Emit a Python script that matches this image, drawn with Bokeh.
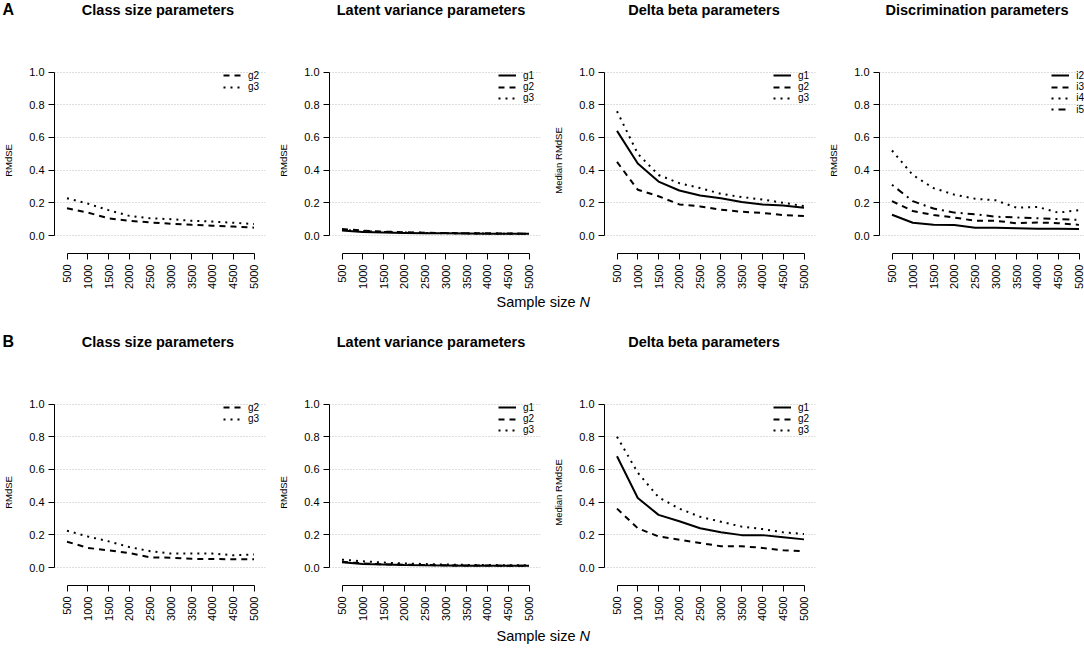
import math
from bokeh.plotting import figure
from bokeh.layouts import row, column
from bokeh.models import FixedTicker, PrintfTickFormatter, Label, Legend, LegendItem
from bokeh.embed import file_html
from bokeh.resources import INLINE

# ---------------- data ----------------
N = [500, 1000, 1500, 2000, 2500, 3000, 3500, 4000, 4500, 5000]
x_ticks = [500, 1000, 1500, 2000, 2500, 3000, 3500, 4000, 4500, 5000]
y_ticks = [0.0, 0.2, 0.4, 0.6, 0.8, 1.0]

# Row A
a_class_g2 = [0.167, 0.140, 0.105, 0.090, 0.080, 0.072, 0.065, 0.060, 0.055, 0.048]
a_class_g3 = [0.228, 0.195, 0.155, 0.120, 0.105, 0.100, 0.090, 0.085, 0.078, 0.070]

a_lat_g1 = [0.030, 0.022, 0.018, 0.016, 0.014, 0.013, 0.012, 0.011, 0.011, 0.010]
a_lat_g2 = [0.040, 0.030, 0.024, 0.020, 0.017, 0.015, 0.014, 0.013, 0.012, 0.011]
a_lat_g3 = [0.035, 0.026, 0.021, 0.018, 0.016, 0.014, 0.013, 0.012, 0.011, 0.011]

a_delta_g1 = [0.64, 0.44, 0.33, 0.275, 0.245, 0.228, 0.205, 0.190, 0.183, 0.170]
a_delta_g2 = [0.45, 0.28, 0.24, 0.190, 0.178, 0.158, 0.145, 0.138, 0.125, 0.120]
a_delta_g3 = [0.76, 0.50, 0.37, 0.320, 0.290, 0.255, 0.235, 0.220, 0.200, 0.180]

a_disc_i2 = [0.127, 0.078, 0.066, 0.064, 0.047, 0.048, 0.045, 0.042, 0.041, 0.040]
a_disc_i3 = [0.210, 0.150, 0.125, 0.110, 0.090, 0.090, 0.075, 0.080, 0.075, 0.065]
a_disc_i4 = [0.520, 0.370, 0.290, 0.250, 0.225, 0.215, 0.170, 0.175, 0.140, 0.155]
a_disc_i5 = [0.310, 0.210, 0.165, 0.140, 0.130, 0.115, 0.110, 0.105, 0.100, 0.095]

# Row B
b_class_g2 = [0.158, 0.120, 0.105, 0.088, 0.062, 0.060, 0.053, 0.052, 0.050, 0.050]
b_class_g3 = [0.225, 0.190, 0.160, 0.125, 0.100, 0.085, 0.085, 0.085, 0.075, 0.080]

b_lat_g1 = [0.032, 0.022, 0.018, 0.015, 0.013, 0.012, 0.011, 0.011, 0.010, 0.010]
b_lat_g2 = [0.035, 0.025, 0.020, 0.017, 0.015, 0.013, 0.012, 0.012, 0.011, 0.011]
b_lat_g3 = [0.048, 0.038, 0.030, 0.025, 0.021, 0.018, 0.016, 0.015, 0.014, 0.013]

b_delta_g1 = [0.68, 0.425, 0.322, 0.283, 0.240, 0.215, 0.198, 0.198, 0.185, 0.172]
b_delta_g2 = [0.36, 0.240, 0.190, 0.170, 0.150, 0.130, 0.130, 0.120, 0.105, 0.100]
b_delta_g3 = [0.80, 0.580, 0.430, 0.360, 0.310, 0.280, 0.250, 0.235, 0.215, 0.205]

titles = ["Class size parameters", "Latent variance parameters",
          "Delta beta parameters", "Discrimination parameters"]
ylabels = ["RMdSE", "RMdSE", "Median RMdSE", "RMdSE"]
row_tags = ["A", "B"]
xlabel_main = "Sample size"
xlabel_var = "N"

# ---------------- layout / style constants ----------------
FONT = "Liberation Sans"
DASH = {"solid": "solid", "dashed": "6 5", "dotted": "2 5", "dotdash": "2 5 7 5"}

TOTAL_W = 1084
LEFT_B = 52            # y axis position inside each panel figure
FIG_W = 273            # horizontal pitch of the panels
FRAME_W = 211
FRAME_H = 186
TOP_B = 47
BOTTOM_B = 37
RIGHT_B = [FIG_W - LEFT_B - FRAME_W] * 3 + [TOTAL_W - 3 * FIG_W - LEFT_B - FRAME_W]

PX_PER_X = 187.0 / 4500.0
PX_PER_Y = 163.5
X0 = 500 - 12.5 / PX_PER_X
X1 = X0 + FRAME_W / PX_PER_X
Y0 = -18 / PX_PER_Y
Y1 = Y0 + FRAME_H / PX_PER_Y

FRAME_CENTERS = [k * FIG_W + LEFT_B + FRAME_W / 2 for k in range(4)]
XLABEL_CENTER = 543

# legend geometry (pixels, relative to the frame)
LEG_FONT_PX = 10
LEG_GLYPH_W = 18
LEG_STANDOFF = 7
LEG_ITEM_H = 11.5       # height Bokeh gives one legend row
LEG_FIRST_CENTER = 8.0  # first entry centre below frame top
LEG_PITCH = 11.3        # tight line spacing without overlapping texts
LEG_TEXT_RIGHT = FRAME_W - 6
CHAR_W = {"g": 0.556, "i": 0.222, "1": 0.556, "2": 0.556, "3": 0.556, "4": 0.556, "5": 0.556}


def text_width(t):
    return sum(CHAR_W.get(c, 0.556) for c in t) * LEG_FONT_PX


def make_panel(ylab, series, right_b):
    p = figure(frame_width=FRAME_W, frame_height=FRAME_H,
               min_border_left=LEFT_B, min_border_right=right_b,
               min_border_top=TOP_B, min_border_bottom=BOTTOM_B,
               x_range=(X0, X1), y_range=(Y0, Y1),
               toolbar_location=None, output_backend="svg")
    p.outline_line_color = None
    p.background_fill_color = "white"
    p.border_fill_color = "white"
    p.xgrid.visible = False

    labels = [s[0] for s in series]
    max_w = max(text_width(t) for t in labels)
    leg_x = LEG_TEXT_RIGHT - max_w - LEG_GLYPH_W - LEG_STANDOFF

    for k, (lab, vals, dash) in enumerate(series):
        r = p.line(N, vals, line_color="black", line_width=2,
                   line_dash=DASH[dash])
        leg_y = FRAME_H - LEG_FIRST_CENTER - k * LEG_PITCH - LEG_ITEM_H / 2
        lg = Legend(items=[LegendItem(label=lab, renderers=[r])],
                    location=(leg_x, leg_y), margin=0, padding=0, spacing=0,
                    label_height=8, glyph_height=8, glyph_width=LEG_GLYPH_W,
                    label_width=0, label_standoff=LEG_STANDOFF,
                    border_line_color=None, background_fill_alpha=0,
                    label_text_font=FONT,
                    label_text_font_size="%dpx" % LEG_FONT_PX,
                    label_text_color="black")
        p.add_layout(lg)

    xa = p.xaxis[0]
    xa.ticker = FixedTicker(ticks=x_ticks)
    xa.bounds = (500, 5000)
    xa.major_label_orientation = math.pi / 2
    xa.minor_tick_line_color = None
    xa.major_tick_in = 0
    xa.major_tick_out = 6
    xa.major_label_standoff = 5
    xa.major_label_text_font = FONT
    xa.major_label_text_font_size = "11px"
    xa.major_label_text_color = "black"
    xa.axis_line_color = "black"
    xa.major_tick_line_color = "black"

    ya = p.yaxis[0]
    ya.ticker = FixedTicker(ticks=y_ticks)
    ya.formatter = PrintfTickFormatter(format="%.1f")
    ya.bounds = (0, 1)
    ya.minor_tick_line_color = None
    ya.major_tick_in = 0
    ya.major_tick_out = 6
    ya.major_label_standoff = 4
    ya.major_label_text_font = FONT
    ya.major_label_text_font_size = "11px"
    ya.major_label_text_color = "black"
    ya.axis_line_color = "black"
    ya.major_tick_line_color = "black"
    ya.axis_label = ylab
    ya.axis_label_text_font = FONT
    ya.axis_label_text_font_size = "9.5px"
    ya.axis_label_text_font_style = "normal"
    ya.axis_label_text_color = "black"
    ya.axis_label_standoff = 12

    g = p.ygrid[0]
    g.ticker = FixedTicker(ticks=y_ticks)
    g.grid_line_color = "#bdbdbd"
    g.grid_line_dash = "1 2"
    g.grid_line_width = 1
    return p


def make_strip(h, items):
    s = figure(width=TOTAL_W, height=h, x_range=(0, TOTAL_W), y_range=(0, h),
               x_axis_type=None, y_axis_type=None, min_border=0,
               toolbar_location=None, output_backend="svg")
    s.outline_line_color = None
    s.background_fill_color = "white"
    s.border_fill_color = "white"
    for x, y_top, text, align, size, style in items:
        s.add_layout(Label(x=x, y=h - y_top, text=text, text_align=align,
                           text_baseline="middle", text_font=FONT,
                           text_font_size=size, text_font_style=style,
                           text_color="black"))
    return s


def title_items(y_top, n_panels, tag):
    items = [(2, y_top, tag, "left", "16px", "bold")]
    for k in range(n_panels):
        items.append((FRAME_CENTERS[k], y_top, titles[k], "center", "14.5px", "bold"))
    return items


def xlabel_items(y_top):
    return [(XLABEL_CENTER + 32, y_top, xlabel_main, "right", "14.5px", "normal"),
            (XLABEL_CENTER + 36, y_top, xlabel_var, "left", "14.5px", "italic")]


series_a = [
    [("g2", a_class_g2, "dashed"), ("g3", a_class_g3, "dotted")],
    [("g1", a_lat_g1, "solid"), ("g2", a_lat_g2, "dashed"), ("g3", a_lat_g3, "dotted")],
    [("g1", a_delta_g1, "solid"), ("g2", a_delta_g2, "dashed"), ("g3", a_delta_g3, "dotted")],
    [("i2", a_disc_i2, "solid"), ("i3", a_disc_i3, "dashed"),
     ("i4", a_disc_i4, "dotted"), ("i5", a_disc_i5, "dotdash")],
]
series_b = [
    [("g2", b_class_g2, "dashed"), ("g3", b_class_g3, "dotted")],
    [("g1", b_lat_g1, "solid"), ("g2", b_lat_g2, "dashed"), ("g3", b_lat_g3, "dotted")],
    [("g1", b_delta_g1, "solid"), ("g2", b_delta_g2, "dashed"), ("g3", b_delta_g3, "dotted")],
]

figs_a = [make_panel(ylabels[k], series_a[k], RIGHT_B[k]) for k in range(4)]
figs_b = [make_panel(ylabels[k], series_b[k], RIGHT_B[k]) for k in range(3)]

top_strip = make_strip(20, title_items(9, 4, row_tags[0]))
mid_strip = make_strip(61, xlabel_items(10) + title_items(50, 3, row_tags[1]))
bottom_strip = make_strip(28, xlabel_items(12))

layout = column(top_strip, row(*figs_a, spacing=0), mid_strip,
                row(*figs_b, spacing=0), bottom_strip, spacing=0)

open("out.html", "w").write(file_html(layout, INLINE))
